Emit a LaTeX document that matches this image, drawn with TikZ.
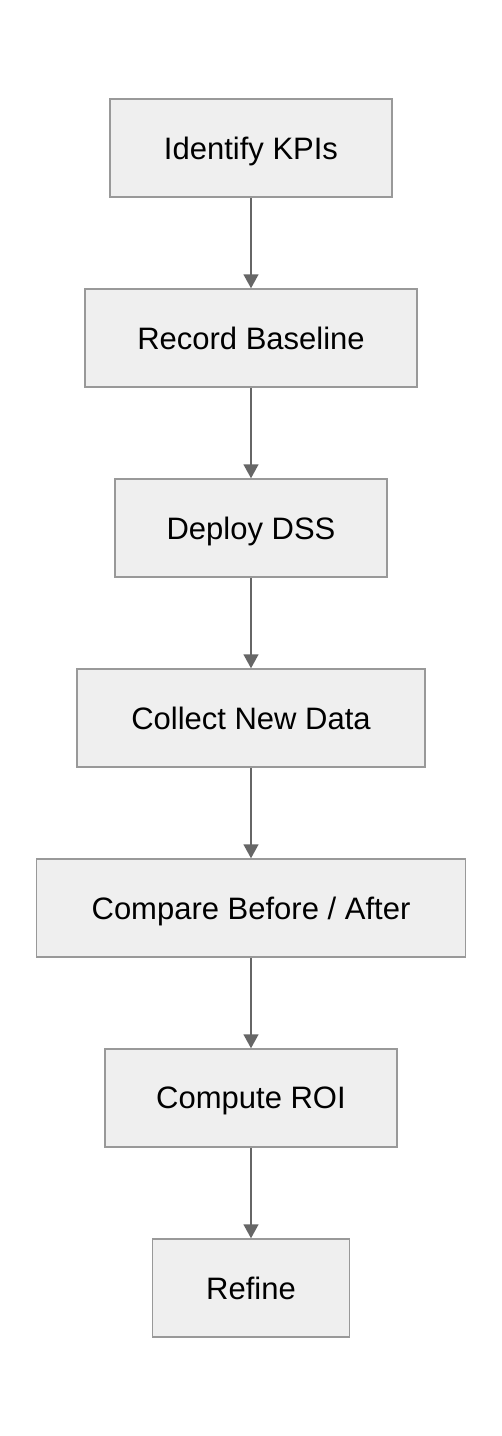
\documentclass[tikz,border=0pt]{standalone}
\usepackage{fontspec}
\setmainfont{Liberation Sans}
\usetikzlibrary{arrows.meta}
\definecolor{boxfill}{HTML}{EFEFEF}
\definecolor{boxline}{HTML}{999999}
\definecolor{arrowline}{HTML}{666666}
\def\BoxHeight{98}
\def\CenterX{251}
\def\Step{190}
\def\TopY{148}

\begin{document}
\begin{tikzpicture}[x=1pt,y=1pt,
  stepbox/.style={draw=boxline, fill=boxfill, line width=1.5pt,
    minimum height=\BoxHeight pt, inner sep=0pt, text depth=0pt,
    font=\fontsize{31}{36}\selectfont},
  flow/.style={draw=arrowline, line width=1.5pt,
    -{Triangle[length=14pt,width=15pt]}}]
  % frame
  \useasboundingbox (0,0) rectangle (502,-1436);
  \fill [white] (0,0) rectangle (502,-1436);
  % steps
  \node[stepbox, minimum width=282pt] (S1) at (\CenterX,-\TopY) {Identify KPIs};
  \node[stepbox, minimum width=332pt] (S2) at (\CenterX,-\TopY-\Step) {Record Baseline};
  \node[stepbox, minimum width=272pt] (S3) at (\CenterX,-\TopY-2*\Step) {Deploy DSS};
  \node[stepbox, minimum width=348pt] (S4) at (\CenterX,-\TopY-3*\Step) {Collect New Data};
  \node[stepbox, minimum width=429pt] (S5) at (\CenterX,-\TopY-4*\Step) {Compare Before / After};
  \node[stepbox, minimum width=292pt] (S6) at (\CenterX,-\TopY-5*\Step) {Compute ROI};
  \node[stepbox, minimum width=197pt] (S7) at (\CenterX,-\TopY-6*\Step) {Refine};
  % arrows
  \foreach \from/\to in {1/2,2/3,3/4,4/5,5/6,6/7}
    {
      \draw [flow] (S\from) -- (S\to);
    }
\end{tikzpicture}
\end{document}
